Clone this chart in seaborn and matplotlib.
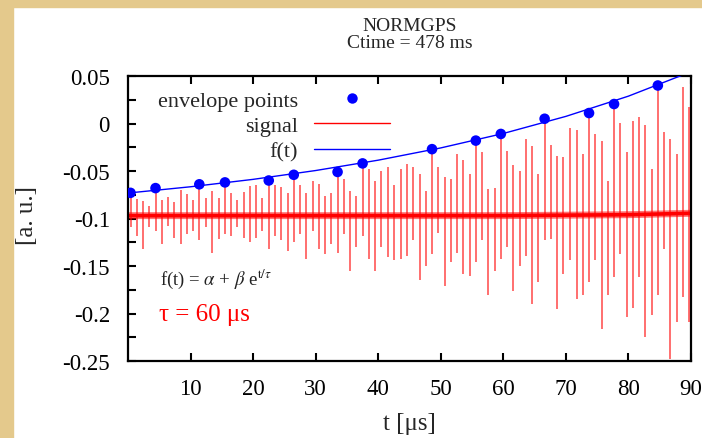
import numpy as np
import pandas as pd
import matplotlib
matplotlib.use("Agg")
import matplotlib.pyplot as plt
from matplotlib.patches import Rectangle
from matplotlib.lines import Line2D
import seaborn as sns

# ---------------- data ----------------
env_t = [0.4, 4.4, 11.4, 15.5, 22.5, 26.5, 33.5, 37.5, 48.6, 55.6, 59.6, 66.6, 73.7, 77.7, 84.7]
env_v = [-0.073, -0.068, -0.064, -0.062, -0.060, -0.054, -0.051, -0.042, -0.027, -0.018,
         -0.011, 0.005, 0.011, 0.0205, 0.040]

fit_t = [0, 10, 20, 30, 40, 50, 60, 70, 80, 90]
fit_v = [-0.0732, -0.0666, -0.0588, -0.0495, -0.0386, -0.0257, -0.0105, 0.0075, 0.0288, 0.0545]

base_t = [0, 30, 60, 80, 90]
base_v = [-0.097, -0.097, -0.097, -0.096, -0.0945]

spike_t = [0.4, 1.4, 2.4, 3.4, 4.4, 5.4, 6.4, 7.4, 8.4, 9.4,
           10.4, 11.4, 12.4, 13.4, 14.5, 15.5, 16.5, 17.5, 18.5, 19.5,
           20.5, 21.5, 22.5, 23.5, 24.5, 25.5, 26.5, 27.5, 28.5, 29.5,
           30.5, 31.5, 32.5, 33.5, 34.5, 35.5, 36.5, 37.5, 38.5, 39.5,
           40.5, 41.5, 42.6, 43.6, 44.6, 45.6, 46.6, 47.6, 48.6, 49.6,
           50.6, 51.6, 52.6, 53.6, 54.6, 55.6, 56.6, 57.6, 58.6, 59.6,
           60.6, 61.6, 62.6, 63.6, 64.6, 65.6, 66.6, 67.6, 68.6, 69.6,
           70.7, 71.7, 72.7, 73.7, 74.7, 75.7, 76.7, 77.7, 78.7, 79.7,
           80.7, 81.7, 82.7, 83.7, 84.7, 85.7, 86.7, 87.7, 88.7, 89.7]
spike_up = [-0.073, -0.079, -0.082, -0.087, -0.068, -0.080, -0.077, -0.083, -0.070, -0.074,
            -0.081, -0.064, -0.078, -0.071, -0.078, -0.062, -0.073, -0.080, -0.072, -0.066,
            -0.065, -0.078, -0.060, -0.065, -0.067, -0.073, -0.054, -0.065, -0.073, -0.060,
            -0.064, -0.076, -0.073, -0.051, -0.058, -0.071, -0.076, -0.042, -0.048, -0.061,
            -0.050, -0.046, -0.065, -0.048, -0.043, -0.046, -0.053, -0.071, -0.027, -0.046,
            -0.056, -0.058, -0.032, -0.038, -0.053, -0.018, -0.030, -0.069, -0.068, -0.011,
            -0.029, -0.044, -0.050, -0.016, -0.024, -0.053, 0.005, -0.023, -0.034, -0.035,
            -0.005, -0.007, -0.032, 0.011, -0.011, -0.018, -0.060, 0.0205, 0.001, -0.030,
            0.003, 0.0065, -0.002, -0.048, 0.040, -0.009, -0.016, -0.032, 0.038, 0.017]
spike_dn = [-0.109, -0.118, -0.132, -0.109, -0.113, -0.127, -0.108, -0.120, -0.127, -0.116,
            -0.113, -0.123, -0.109, -0.136, -0.122, -0.116, -0.118, -0.109, -0.120, -0.125,
            -0.120, -0.113, -0.132, -0.118, -0.123, -0.134, -0.125, -0.116, -0.143, -0.113,
            -0.132, -0.137, -0.127, -0.136, -0.116, -0.155, -0.130, -0.118, -0.143, -0.155,
            -0.130, -0.141, -0.144, -0.143, -0.139, -0.123, -0.165, -0.150, -0.137, -0.115,
            -0.171, -0.146, -0.136, -0.158, -0.160, -0.146, -0.123, -0.181, -0.155, -0.143,
            -0.130, -0.176, -0.150, -0.139, -0.190, -0.167, -0.123, -0.122, -0.195, -0.158,
            -0.144, -0.185, -0.180, -0.167, -0.144, -0.216, -0.180, -0.162, -0.137, -0.204,
            -0.194, -0.162, -0.225, -0.202, -0.181, -0.132, -0.248, -0.209, -0.183, -0.209]

x_ticks = [10, 20, 30, 40, 50, 60, 70, 80, 90]
x_labels = ["10", "20", "30", "40", "50", "60", "70", "80", "90"]
y_ticks = [0.05, 0.025, 0.0, -0.025, -0.05, -0.075, -0.1, -0.125, -0.15, -0.175, -0.2, -0.225, -0.25]
y_labels = ["0.05", "", "0", "", "-0.05", "", "-0.1", "", "-0.15", "", "-0.2", "", "-0.25"]

# ---------------- style ----------------
sns.set_style("ticks")
plt.rcParams["font.family"] = ["Liberation Serif", "DejaVu Serif"]
plt.rcParams["mathtext.fontset"] = "stix"

W, H = 702, 439
fig = plt.figure(figsize=(W / 100, H / 100), dpi=100)
fig.patch.set_facecolor("white")
tan = "#e4c98c"
fig.add_artist(Rectangle((0, 0), 13 / W, 1, transform=fig.transFigure, color=tan, zorder=-10))
fig.add_artist(Rectangle((0, 1 - 8 / H), 1, 8 / H, transform=fig.transFigure, color=tan, zorder=-10))

L, R, T, B = 128, 691, 77, 362
ax = fig.add_axes([L / W, 1 - B / H, (R - L) / W, (B - T) / H])
ax.set_facecolor("white")

# signal: noisy baseline band + spikes
sns.lineplot(x=base_t, y=base_v, ax=ax, color="red", lw=5.0, alpha=0.55, zorder=2)
sns.lineplot(x=base_t, y=base_v, ax=ax, color="red", lw=2.6, zorder=2)
ax.vlines(spike_t, spike_dn, spike_up, color="red", lw=1.1, alpha=0.72, zorder=3)

# fit and envelope points
sns.lineplot(x=fit_t, y=fit_v, ax=ax, color="blue", lw=1.0, zorder=4)
sns.scatterplot(x=env_t, y=env_v, ax=ax, color="blue", s=58, edgecolor="none", zorder=5)

ax.set_xlim(0, 90)
ax.set_ylim(-0.25, 0.05)
ax.set_xticks(x_ticks)
ax.set_xticklabels(x_labels)
ax.set_yticks(y_ticks)
ax.set_yticklabels(y_labels)
ax.tick_params(axis="x", direction="in", length=6, width=1.5, top=True, bottom=True,
               labelsize=16.5, pad=12, colors="black")
ax.tick_params(axis="y", direction="in", length=5.5, width=1.5, left=True, right=False,
               labelsize=16.5, pad=13, colors="black")
for s in ax.spines.values():
    s.set_visible(True)
    s.set_linewidth(1.6)
    s.set_color("black")

ax.set_xlabel("t [μs]", fontsize=18)
ax.xaxis.label.set_va("center")
ax.xaxis.set_label_coords(0.5, (B - 424) / (B - T))
ax.set_ylabel("[a. u.]", fontsize=18)
ax.yaxis.label.set_va("center")
ax.yaxis.set_label_coords((27 - L) / (R - L), (B - 216) / (B - T))

ax.set_title("NORMGPS\nCtime = 478 ms", fontsize=14, linespacing=1.0, pad=21)

# legend (text right-aligned, sample on the right)
handles = [
    Line2D([], [], ls="none", marker="o", markersize=7.5, color="blue", markeredgewidth=0),
    Line2D([], [], color="red", lw=1.0),
    Line2D([], [], color="blue", lw=1.0),
]
labels = ["envelope points", "signal", "f(t)"]
leg = ax.legend(handles, labels, loc="upper right",
                bbox_to_anchor=((390 - L) / (R - L), (B - 91) / (B - T)),
                frameon=False, markerfirst=False, handlelength=3.4, handletextpad=0.75,
                borderpad=0, borderaxespad=0, labelspacing=0.22, fontsize=16)
for col in leg._legend_handle_box.get_children():
    col.align = "right"

# annotations
ax.text((160 - L) / (R - L), (B - 279) / (B - T),
        r"f(t) = $\alpha$ + $\beta$ e$^{\mathrm{t}/\tau}$",
        transform=ax.transAxes, fontsize=13.5, color="#222222", va="center", ha="left")
ax.text((159 - L) / (R - L), (B - 315) / (B - T), "τ = 60 μs",
        transform=ax.transAxes, fontsize=18, color="red", va="center", ha="left")

fig.savefig("out.png", dpi=100, facecolor=fig.get_facecolor())
